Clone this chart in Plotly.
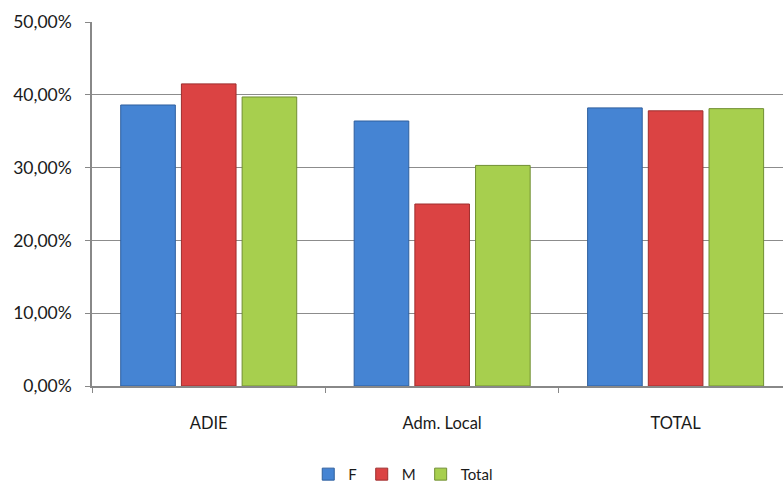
import plotly.graph_objects as go

categories = ["ADIE", "Adm. Local", "TOTAL"]
f_values = [0.386, 0.364, 0.382]
m_values = [0.415, 0.250, 0.378]
total_values = [0.397, 0.303, 0.381]
y_ticks = [0, 0.1, 0.2, 0.3, 0.4, 0.5]
y_tick_labels = ["0,00%", "10,00%", "20,00%", "30,00%", "40,00%", "50,00%"]

series = [
    ("F", f_values, "#4584D3", "#2F5F9E"),
    ("M", m_values, "#DB4343", "#9E2E2E"),
    ("Total", total_values, "#A7CF4E", "#718F33"),
]

fig = go.Figure()
for name, vals, color, edge in series:
    fig.add_trace(go.Bar(
        name=name, x=categories, y=vals,
        marker=dict(color=color, line=dict(color=edge, width=1)),
    ))

font = "Lato, 'Open Sans', sans-serif"
fig.update_layout(
    width=783, height=483,
    margin=dict(l=92, r=0, t=22, b=97),
    paper_bgcolor="white", plot_bgcolor="white",
    barmode="group", bargap=0.22, bargroupgap=0.1,
    font=dict(family=font, size=15, color="#1a1a1a"),
    legend=dict(
        orientation="h", xref="container", yref="container",
        x=0.515, y=0.052, xanchor="center", yanchor="top",
        font=dict(size=15), itemwidth=30, traceorder="normal",
    ),
    xaxis=dict(
        range=[-0.5, 2.46],
        showline=True, linecolor="#888888", linewidth=1.5,
        ticks="outside", tickson="boundaries", ticklen=5, tickcolor="#888888",
        ticklabelstandoff=21, showgrid=False,
        tickfont=dict(size=16.5),
    ),
    yaxis=dict(
        range=[0, 0.5], tickvals=y_ticks, ticktext=y_tick_labels,
        showline=True, linecolor="#888888", linewidth=1.5,
        ticks="outside", ticklen=5, tickcolor="#888888",
        showgrid=True, gridcolor="#8c8c8c", gridwidth=1.3,
        zeroline=False, ticklabelstandoff=10,
        tickfont=dict(size=17.5),
    ),
)

fig.write_html("out.html")
